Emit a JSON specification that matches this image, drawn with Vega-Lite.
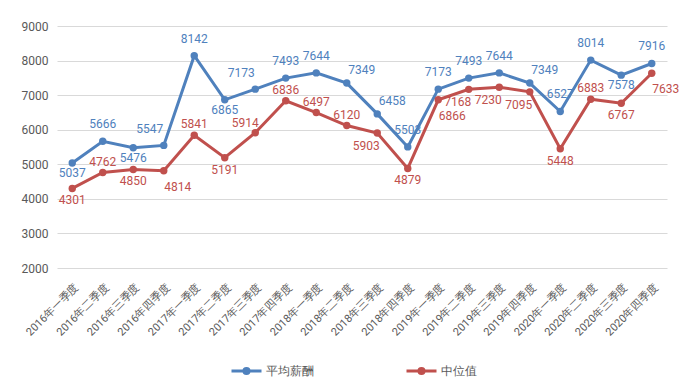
{
  "$schema": "https://vega.github.io/schema/vega-lite/v6.json",
  "width": 610,
  "height": 242,
  "autosize": {"type": "none"},
  "padding": {"left": 57, "top": 26, "right": 32, "bottom": 124},
  "background": "white",
  "config": {
    "view": {"stroke": null},
    "font": "Roboto",
    "axis": {"labelColor": "#595959", "labelFont": "Roboto"},
    "text": {"fontSize": 12, "baseline": "middle"}
  },
  "data": {
    "values": [
      {"q": "2016年一季度", "series": "平均薪酬", "value": 5037},
      {"q": "2016年二季度", "series": "平均薪酬", "value": 5666},
      {"q": "2016年三季度", "series": "平均薪酬", "value": 5476},
      {"q": "2016年四季度", "series": "平均薪酬", "value": 5547},
      {"q": "2017年一季度", "series": "平均薪酬", "value": 8142},
      {"q": "2017年二季度", "series": "平均薪酬", "value": 6865},
      {"q": "2017年三季度", "series": "平均薪酬", "value": 7173},
      {"q": "2017年四季度", "series": "平均薪酬", "value": 7493},
      {"q": "2018年一季度", "series": "平均薪酬", "value": 7644},
      {"q": "2018年二季度", "series": "平均薪酬", "value": 7349},
      {"q": "2018年三季度", "series": "平均薪酬", "value": 6458},
      {"q": "2018年四季度", "series": "平均薪酬", "value": 5503},
      {"q": "2019年一季度", "series": "平均薪酬", "value": 7173},
      {"q": "2019年二季度", "series": "平均薪酬", "value": 7493},
      {"q": "2019年三季度", "series": "平均薪酬", "value": 7644},
      {"q": "2019年四季度", "series": "平均薪酬", "value": 7349},
      {"q": "2020年一季度", "series": "平均薪酬", "value": 6527},
      {"q": "2020年二季度", "series": "平均薪酬", "value": 8014},
      {"q": "2020年三季度", "series": "平均薪酬", "value": 7578},
      {"q": "2020年四季度", "series": "平均薪酬", "value": 7916},
      {"q": "2016年一季度", "series": "中位值", "value": 4301},
      {"q": "2016年二季度", "series": "中位值", "value": 4762},
      {"q": "2016年三季度", "series": "中位值", "value": 4850},
      {"q": "2016年四季度", "series": "中位值", "value": 4814},
      {"q": "2017年一季度", "series": "中位值", "value": 5841},
      {"q": "2017年二季度", "series": "中位值", "value": 5191},
      {"q": "2017年三季度", "series": "中位值", "value": 5914},
      {"q": "2017年四季度", "series": "中位值", "value": 6836},
      {"q": "2018年一季度", "series": "中位值", "value": 6497},
      {"q": "2018年二季度", "series": "中位值", "value": 6120},
      {"q": "2018年三季度", "series": "中位值", "value": 5903},
      {"q": "2018年四季度", "series": "中位值", "value": 4879},
      {"q": "2019年一季度", "series": "中位值", "value": 6866},
      {"q": "2019年二季度", "series": "中位值", "value": 7168},
      {"q": "2019年三季度", "series": "中位值", "value": 7230},
      {"q": "2019年四季度", "series": "中位值", "value": 7095},
      {"q": "2020年一季度", "series": "中位值", "value": 5448},
      {"q": "2020年二季度", "series": "中位值", "value": 6883},
      {"q": "2020年三季度", "series": "中位值", "value": 6767},
      {"q": "2020年四季度", "series": "中位值", "value": 7633}
    ]
  },
  "encoding": {
    "x": {
      "field": "q", "type": "ordinal", "sort": null, "title": null,
      "axis": {"labelAngle": -45, "labelFontSize": 11, "ticks": false, "domain": false, "labelPadding": 13, "grid": false}
    },
    "y": {
      "field": "value", "type": "quantitative", "title": null,
      "scale": {"domain": [2000, 9000], "nice": false, "zero": false},
      "axis": {"values": [2000, 3000, 4000, 5000, 6000, 7000, 8000, 9000], "format": "d", "labelFontSize": 12, "ticks": false, "domain": false, "labelPadding": 9, "gridColor": "#d9d9d9", "gridWidth": 1}
    },
    "color": {
      "field": "series", "type": "nominal",
      "scale": {"domain": ["平均薪酬", "中位值"], "range": ["#4F81BD", "#C0504D"]},
      "legend": {
        "title": null, "orient": "none", "direction": "horizontal",
        "legendX": 173, "legendY": 328, "padding": 0,
        "symbolType": "M-1,0H1M-0.17,0A0.17,0.17,0,1,1,0.17,0A0.17,0.17,0,1,1,-0.17,0",
        "symbolSize": 900, "symbolStrokeWidth": 3,
        "labelFontSize": 12, "labelColor": "#595959", "labelFont": "Roboto",
        "labelOffset": 3, "columnPadding": 86,
        "encode": {"symbols": {"update": {"fill": {"scale": "color", "field": "value"}, "stroke": {"scale": "color", "field": "value"}}}}
      }
    }
  },
  "layer": [
    {"mark": {"type": "line", "strokeWidth": 3}},
    {"mark": {"type": "point", "filled": true, "size": 55, "opacity": 1}},
    {
      "transform": [{"filter": {"and": [{"field": "series", "equal": "平均薪酬"}, {"field": "q", "oneOf": ["2016年二季度", "2017年一季度", "2017年四季度", "2018年一季度", "2018年四季度", "2019年一季度", "2019年二季度", "2019年三季度", "2020年一季度", "2020年二季度", "2020年四季度"]}]}}],
      "mark": {"type": "text", "dy": -17},
      "encoding": {"text": {"field": "value", "type": "quantitative", "format": "d"}}
    },
    {
      "transform": [{"filter": {"and": [{"field": "series", "equal": "中位值"}, {"field": "q", "oneOf": ["2016年二季度", "2017年一季度", "2017年四季度", "2018年一季度", "2018年二季度", "2020年二季度"]}]}}],
      "mark": {"type": "text", "dy": -11},
      "encoding": {"text": {"field": "value", "type": "quantitative", "format": "d"}}
    },
    {
      "transform": [{"filter": {"and": [{"field": "series", "equal": "平均薪酬"}, {"field": "q", "oneOf": ["2016年四季度", "2017年三季度"]}]}}],
      "mark": {"type": "text", "dy": -16, "dx": -14},
      "encoding": {"text": {"field": "value", "type": "quantitative", "format": "d"}}
    },
    {
      "transform": [{"filter": {"and": [{"field": "series", "equal": "中位值"}, {"field": "q", "oneOf": ["2017年三季度"]}]}}],
      "mark": {"type": "text", "dy": -10, "dx": -10},
      "encoding": {"text": {"field": "value", "type": "quantitative", "format": "d"}}
    },
    {
      "transform": [{"filter": {"and": [{"field": "series", "equal": "平均薪酬"}, {"field": "q", "oneOf": ["2018年二季度", "2018年三季度", "2019年四季度"]}]}}],
      "mark": {"type": "text", "dy": -13, "dx": 15},
      "encoding": {"text": {"field": "value", "type": "quantitative", "format": "d"}}
    },
    {
      "transform": [{"filter": {"and": [{"field": "series", "equal": "平均薪酬"}, {"field": "q", "oneOf": ["2016年一季度", "2016年三季度", "2017年二季度", "2020年三季度"]}]}}],
      "mark": {"type": "text", "dy": 10},
      "encoding": {"text": {"field": "value", "type": "quantitative", "format": "d"}}
    },
    {
      "transform": [{"filter": {"and": [{"field": "series", "equal": "中位值"}, {"field": "q", "oneOf": ["2016年一季度", "2016年三季度", "2017年二季度", "2018年四季度", "2020年一季度", "2020年三季度"]}]}}],
      "mark": {"type": "text", "dy": 12},
      "encoding": {"text": {"field": "value", "type": "quantitative", "format": "d"}}
    },
    {
      "transform": [{"filter": {"and": [{"field": "series", "equal": "中位值"}, {"field": "q", "oneOf": ["2018年三季度", "2019年二季度", "2019年三季度", "2019年四季度"]}]}}],
      "mark": {"type": "text", "dy": 13, "dx": -11},
      "encoding": {"text": {"field": "value", "type": "quantitative", "format": "d"}}
    },
    {
      "transform": [{"filter": {"and": [{"field": "series", "equal": "中位值"}, {"field": "q", "oneOf": ["2016年四季度", "2019年一季度", "2020年四季度"]}]}}],
      "mark": {"type": "text", "dy": 16, "dx": 14},
      "encoding": {"text": {"field": "value", "type": "quantitative", "format": "d"}}
    }
  ]
}
